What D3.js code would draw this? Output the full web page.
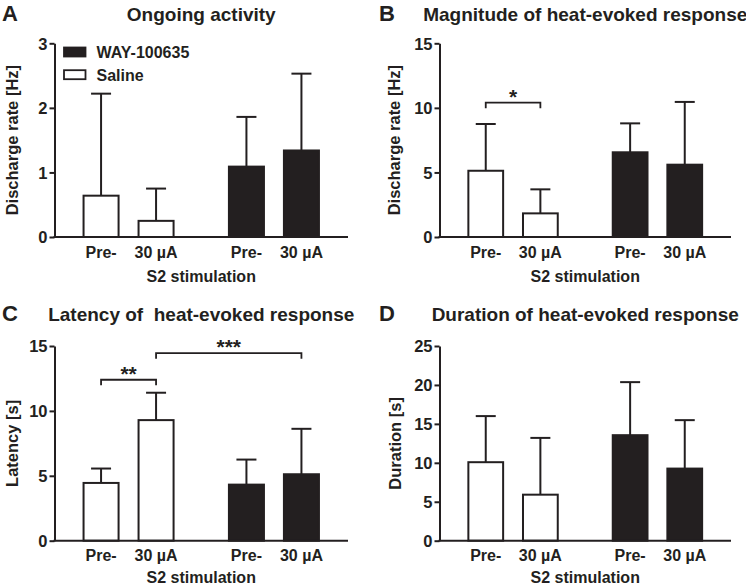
<!DOCTYPE html>
<html>
<head>
<meta charset="utf-8">
<script src="https://cdn.jsdelivr.net/npm/d3@7"></script>
<style>
  html, body { margin: 0; padding: 0; background: #fff; }
  svg text { font-family: "Liberation Sans", Arial, Helvetica, sans-serif; font-weight: bold; fill: #231f20; }
</style>
</head>
<body>
<svg id="chart" width="746" height="586"></svg>
<script>
// ---------- DATA ----------
const groups = ["Saline", "WAY-100635"];
const conditions = ["Pre-", "30 µA"];
const xTitle = "S2 stimulation";

const panelLetters = ["A", "B", "C", "D"];
const panelTitles = ["Ongoing activity", "Magnitude of heat-evoked response", "Latency of  heat-evoked response", "Duration of heat-evoked response"];
const yLabels = ["Discharge rate [Hz]", "Discharge rate [Hz]", "Latency [s]", "Duration [s]"];
const yMax = [3, 15, 15, 25];
const yTicksA = [0, 1, 2, 3];
const yTicksB = [0, 5, 10, 15];
const yTicksC = [0, 5, 10, 15];
const yTicksD = [0, 5, 10, 15, 20, 25];

// means (Pre-, 30 µA) and SD per group
const ongoingSaline = [0.64, 0.25];
const ongoingSalineSD = [1.58, 0.50];
const ongoingWAY = [1.09, 1.34];
const ongoingWAYSD = [0.77, 1.19];

const magnitudeSaline = [5.13, 1.83];
const magnitudeSalineSD = [3.62, 1.86];
const magnitudeWAY = [6.56, 5.60];
const magnitudeWAYSD = [2.24, 4.86];

const latencySaline = [4.45, 9.29];
const latencySalineSD = [1.11, 2.11];
const latencyWAY = [4.32, 5.12];
const latencyWAYSD = [1.93, 3.50];

const durationSaline = [10.08, 5.91];
const durationSalineSD = [5.92, 7.29];
const durationWAY = [13.55, 9.26];
const durationWAYSD = [6.81, 6.22];

// significance brackets: [fromBar, toBar, level (data units), label]
const sigB = [[0, 1, 10.4, "*"]];
const sigC = [[0, 1, 12.4, "**"], [1, 3, 14.45, "***"]];

// ---------- LAYOUT ----------
const svg = d3.select("#chart");
const ink = "#231f20";

const panels = [
  { left: 54.5, right: 348, top: 43.3, bottom: 237, titleY: 20.5, letterX: 2, yLabX: 18,
    ticks: yTicksA, sal: ongoingSaline, salSD: ongoingSalineSD, way: ongoingWAY, waySD: ongoingWAYSD, sig: [], legend: true },
  { left: 439.5, right: 731, top: 43.3, bottom: 237, titleY: 20.5, letterX: 379, yLabX: 400,
    ticks: yTicksB, sal: magnitudeSaline, salSD: magnitudeSalineSD, way: magnitudeWAY, waySD: magnitudeWAYSD, sig: sigB },
  { left: 54.5, right: 348, top: 346, bottom: 540.7, titleY: 321, letterX: 2, yLabX: 18,
    ticks: yTicksC, sal: latencySaline, salSD: latencySalineSD, way: latencyWAY, waySD: latencyWAYSD, sig: sigC },
  { left: 439.5, right: 731, top: 346, bottom: 540.7, titleY: 321, letterX: 379, yLabX: 401,
    ticks: yTicksD, sal: durationSaline, salSD: durationSalineSD, way: durationWAY, waySD: durationWAYSD, sig: [] }
];

panels.forEach((p, i) => {
  const g = svg.append("g");
  const y = d3.scaleLinear().domain([0, yMax[i]]).range([p.bottom, p.top]);
  const xOuter = d3.scaleBand().domain(groups).range([p.left, p.right]).paddingInner(0.367).paddingOuter(0.193);
  const xInner = d3.scaleBand().domain(conditions).range([0, xOuter.bandwidth()]).paddingInner(0.327).paddingOuter(0);

  const bars = [];
  groups.forEach((gr, gi) => {
    const means = gi === 0 ? p.sal : p.way;
    const sds = gi === 0 ? p.salSD : p.waySD;
    conditions.forEach((c, ci) => {
      bars.push({ group: gr, cond: c, mean: means[ci], sd: sds[ci],
        x: xOuter(gr) + xInner(c), w: xInner.bandwidth(), black: gi === 1 });
    });
  });

  // error bars (upper only)
  bars.forEach(b => {
    const cx = b.x + b.w / 2;
    g.append("line").attr("x1", cx).attr("x2", cx).attr("y1", y(b.mean)).attr("y2", y(b.mean + b.sd))
      .attr("stroke", ink).attr("stroke-width", 2);
    g.append("line").attr("x1", cx - 10).attr("x2", cx + 10).attr("y1", y(b.mean + b.sd)).attr("y2", y(b.mean + b.sd))
      .attr("stroke", ink).attr("stroke-width", 2);
  });

  // bars
  g.selectAll("rect.bar").data(bars).enter().append("rect")
    .attr("class", "bar")
    .attr("x", d => d.x + 1).attr("width", d => d.w - 2)
    .attr("y", d => y(d.mean)).attr("height", d => p.bottom - y(d.mean))
    .attr("fill", d => d.black ? ink : "#fff")
    .attr("stroke", ink).attr("stroke-width", 2);

  // y axis
  const yAxis = d3.axisLeft(y).tickValues(p.ticks).tickSize(5).tickSizeOuter(0).tickPadding(2).tickFormat(d3.format("d"));
  const ag = g.append("g").attr("transform", `translate(${p.left},0)`).call(yAxis);
  ag.select(".domain").attr("stroke", ink).attr("stroke-width", 2);
  ag.selectAll(".tick line").attr("stroke", ink).attr("stroke-width", 2);
  ag.selectAll(".tick text").style("font-size", "16.5px").attr("fill", ink).attr("dy", "0.35em");

  // x axis line
  g.append("line").attr("x1", p.left - 1).attr("x2", p.right).attr("y1", p.bottom).attr("y2", p.bottom)
    .attr("stroke", ink).attr("stroke-width", 2);

  // x tick labels
  bars.forEach(b => {
    g.append("text").attr("x", b.x + b.w / 2).attr("y", p.bottom + 20.5)
      .attr("text-anchor", "middle").style("font-size", "16px").text(b.cond);
  });
  g.append("text").attr("x", (p.left + p.right) / 2).attr("y", Math.min(p.bottom + 44.5, 583))
    .attr("text-anchor", "middle").style("font-size", "16px").text(xTitle);

  // y label
  g.append("text").attr("transform", `translate(${p.yLabX},${(p.top + p.bottom) / 2}) rotate(-90)`)
    .attr("text-anchor", "middle").style("font-size", "16.5px").text(yLabels[i]);

  // title and letter
  g.append("text").attr("x", (p.left + p.right) / 2).attr("y", p.titleY)
    .attr("text-anchor", "middle").style("font-size", "19px").style("white-space", "pre").text(panelTitles[i]);
  g.append("text").attr("x", p.letterX).attr("y", p.titleY)
    .style("font-size", "22px").text(panelLetters[i]);

  // significance brackets
  p.sig.forEach(s => {
    const x1 = bars[s[0]].x + bars[s[0]].w / 2;
    const x2 = bars[s[1]].x + bars[s[1]].w / 2;
    const yy = y(s[2]);
    g.append("path").attr("d", `M${x1},${yy + 5.5}V${yy}H${x2}V${yy + 5.5}`)
      .attr("fill", "none").attr("stroke", ink).attr("stroke-width", 1.8);
    g.append("text").attr("x", (x1 + x2) / 2).attr("y", yy + 1)
      .attr("text-anchor", "middle").style("font-size", "21px").text(s[3]);
  });

  // legend
  if (p.legend) {
    const legendItems = [groups[1], groups[0]];
    legendItems.forEach((name, k) => {
      const cy = 52 + k * 22.7;
      g.append("rect").attr("x", 64).attr("y", cy - 4.5).attr("width", 21.5).attr("height", 9)
        .attr("fill", name === groups[1] ? ink : "#fff").attr("stroke", ink).attr("stroke-width", 1.8);
      g.append("text").attr("x", 96.5).attr("y", cy + 6).style("font-size", "16px").text(name);
    });
  }
});
</script>
</body>
</html>
